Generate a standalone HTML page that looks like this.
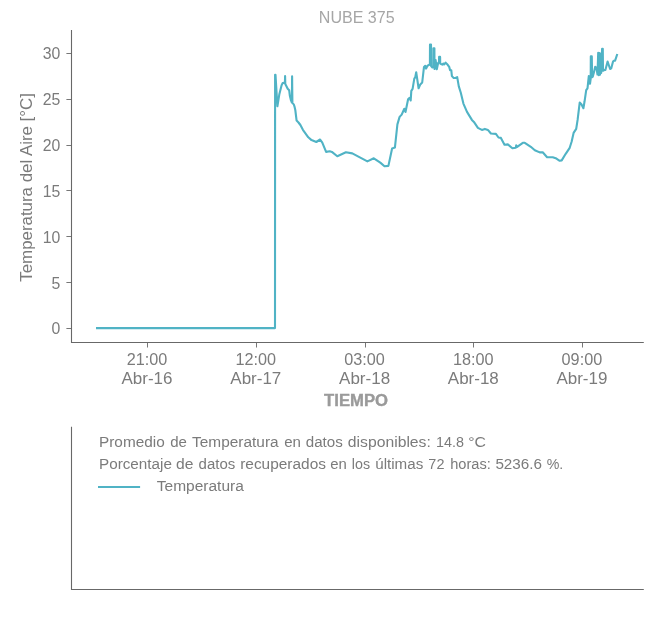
<!DOCTYPE html>
<html lang="es"><head><meta charset="utf-8"><title>NUBE 375</title>
<style>html,body{margin:0;padding:0;background:#fff}svg{display:block}text{font-family:"Liberation Sans",sans-serif}</style>
</head><body>
<svg width="652" height="623" viewBox="0 0 652 623">
<rect width="652" height="623" fill="#fff"/>
<text x="356.7" y="23.2" font-size="16" fill="#a6a6a6" text-anchor="middle" textLength="75.8" lengthAdjust="spacingAndGlyphs">NUBE 375</text>
<g stroke="#686868" stroke-width="1.1" fill="none">
<path d="M71.5 30V342.5H643.8"/>
<path d="M71.5 426.7V589.5H643.8"/>

<path d="M66.4 328.5H71.5" stroke-width="0.9"/>
<path d="M66.4 282.5H71.5" stroke-width="0.9"/>
<path d="M66.4 236.5H71.5" stroke-width="0.9"/>
<path d="M66.4 190.5H71.5" stroke-width="0.9"/>
<path d="M66.4 145.5H71.5" stroke-width="0.9"/>
<path d="M66.4 99.5H71.5" stroke-width="0.9"/>
<path d="M66.4 53.5H71.5" stroke-width="0.9"/>
<path d="M147.5 342.5V347.5" stroke-width="0.9"/>
<path d="M256.5 342.5V347.5" stroke-width="0.9"/>
<path d="M365.5 342.5V347.5" stroke-width="0.9"/>
<path d="M473.5 342.5V347.5" stroke-width="0.9"/>
<path d="M582.5 342.5V347.5" stroke-width="0.9"/>
</g>
<g font-size="16.3" fill="#7b7b7b" text-anchor="end">
<text x="60.4" y="334.4" textLength="8.8" lengthAdjust="spacingAndGlyphs">0</text>
<text x="60.4" y="288.6" textLength="8.8" lengthAdjust="spacingAndGlyphs">5</text>
<text x="60.4" y="242.7" textLength="17.6" lengthAdjust="spacingAndGlyphs">10</text>
<text x="60.4" y="196.9" textLength="17.6" lengthAdjust="spacingAndGlyphs">15</text>
<text x="60.4" y="151.0" textLength="17.6" lengthAdjust="spacingAndGlyphs">20</text>
<text x="60.4" y="105.2" textLength="17.6" lengthAdjust="spacingAndGlyphs">25</text>
<text x="60.4" y="59.4" textLength="17.6" lengthAdjust="spacingAndGlyphs">30</text>
</g>
<g font-size="16" fill="#7b7b7b" text-anchor="middle">
<text x="147.0" y="365.2" textLength="40.6" lengthAdjust="spacingAndGlyphs">21:00</text>
<text x="147.0" y="384.1" textLength="51.0" lengthAdjust="spacingAndGlyphs">Abr-16</text>
<text x="255.8" y="365.2" textLength="40.6" lengthAdjust="spacingAndGlyphs">12:00</text>
<text x="255.8" y="384.1" textLength="51.0" lengthAdjust="spacingAndGlyphs">Abr-17</text>
<text x="364.6" y="365.2" textLength="40.6" lengthAdjust="spacingAndGlyphs">03:00</text>
<text x="364.6" y="384.1" textLength="51.0" lengthAdjust="spacingAndGlyphs">Abr-18</text>
<text x="473.3" y="365.2" textLength="40.6" lengthAdjust="spacingAndGlyphs">18:00</text>
<text x="473.3" y="384.1" textLength="51.0" lengthAdjust="spacingAndGlyphs">Abr-18</text>
<text x="581.9" y="365.2" textLength="40.6" lengthAdjust="spacingAndGlyphs">09:00</text>
<text x="581.9" y="384.1" textLength="51.0" lengthAdjust="spacingAndGlyphs">Abr-19</text>
</g>
<text x="356.1" y="406.2" font-size="16" font-weight="bold" fill="#9a9a9a" stroke="#9a9a9a" stroke-width="0.35" text-anchor="middle" textLength="64" lengthAdjust="spacingAndGlyphs">TIEMPO</text>
<text transform="translate(32.0 187.4) rotate(-90)" font-size="15.6" fill="#7b7b7b" text-anchor="middle" textLength="188.6" lengthAdjust="spacingAndGlyphs">Temperatura del Aire [°C]</text>
<path d="M96.0 328.1 L275.0 328.1 L275.1 74.7 L275.5 74.7 L277.4 106.3 L279.4 93.9 L281.6 85.2 L282.7 83.1 L284.1 82.7 L284.9 83.3 L285.1 76.0 L285.3 84.0 L286.7 86.7 L287.7 88.8 L289.2 90.3 L289.9 96.0 L291.0 100.4 L291.9 102.5 L292.1 76.2 L292.4 102.9 L293.9 104.7 L294.6 106.9 L295.3 110.0 L296.6 120.6 L298.5 122.5 L300.4 125.0 L302.9 129.8 L308.3 137.3 L311.5 140.1 L316.3 142.0 L320.1 139.5 L322.3 142.7 L326.1 151.9 L329.8 151.3 L331.9 151.9 L337.3 156.2 L345.9 152.3 L352.3 153.4 L367.4 161.4 L373.8 158.3 L380.3 162.6 L384.5 166.3 L388.4 165.9 L392.1 148.5 L394.9 147.6 L397.4 124.4 L399.6 116.9 L401.7 114.6 L404.3 108.8 L405.5 112.0 L408.1 99.2 L409.4 97.9 L410.7 100.5 L411.3 90.9 L412.6 88.9 L414.3 78.7 L415.2 77.4 L416.2 72.2 L418.6 88.3 L420.3 84.4 L422.2 82.5 L424.0 66.9 L425.2 65.8 L426.1 68.6 L427.5 65.7 L429.3 64.8 L429.9 64.8 L430.0 44.5 L431.0 44.5 L431.1 66.0 L432.4 67.5 L433.3 67.0 L433.4 48.2 L434.4 48.2 L434.5 69.0 L435.6 60.0 L436.8 69.3 L438.2 62.8 L439.0 62.2 L439.1 56.9 L440.1 56.9 L440.2 63.5 L441.3 64.2 L442.5 64.6 L443.2 63.5 L444.3 64.3 L445.6 62.6 L447.7 64.8 L449.2 66.9 L450.1 70.2 L451.3 70.4 L451.9 76.1 L453.7 78.0 L455.6 78.0 L457.2 77.1 L458.8 86.4 L460.8 92.8 L463.4 103.6 L467.0 111.9 L471.9 119.9 L473.9 121.9 L477.9 127.9 L481.9 129.9 L484.9 128.9 L487.9 129.9 L490.9 133.5 L495.9 133.9 L498.5 137.5 L500.9 137.9 L504.5 144.8 L507.8 144.4 L512.4 148.2 L515.8 147.8 L516.2 145.4 L517.2 146.8 L522.8 142.8 L524.8 142.8 L530.8 146.8 L534.8 150.2 L539.7 152.4 L542.7 152.2 L547.1 157.2 L552.7 157.2 L555.7 158.2 L559.7 160.8 L561.7 160.4 L565.7 153.8 L569.7 147.8 L571.6 141.8 L573.6 132.9 L576.2 128.9 L577.6 119.9 L579.7 102.6 L581.4 104.3 L583.4 108.2 L584.5 101.8 L586.2 90.2 L587.5 88.3 L588.8 76.1 L590.0 83.8 L590.7 78.7 L590.8 56.4 L591.8 56.4 L592.1 77.2 L592.8 76.6 L593.9 72.5 L595.2 66.7 L596.4 67.8 L597.5 74.5 L598.2 52.7 L598.8 75.2 L599.4 53.0 L600.0 74.6 L600.6 53.7 L601.2 73.0 L602.1 48.7 L602.8 48.7 L603.0 70.8 L603.8 70.2 L605.4 69.9 L607.6 61.5 L610.1 69.0 L611.2 68.4 L612.9 61.9 L613.8 60.7 L615.1 60.6 L617.3 54.0" fill="none" stroke="#50b3c5" stroke-width="2.1" stroke-linejoin="round" stroke-linecap="butt"/>
<g font-size="14" fill="#7b7b7b">
<text y="447"><tspan x="99.02" textLength="65.74" lengthAdjust="spacingAndGlyphs">Promedio</tspan> <tspan x="170.24" textLength="16.70" lengthAdjust="spacingAndGlyphs">de</tspan> <tspan x="192.08" textLength="86.50" lengthAdjust="spacingAndGlyphs">Temperatura</tspan> <tspan x="284.20" textLength="16.76" lengthAdjust="spacingAndGlyphs">en</tspan> <tspan x="305.72" textLength="37.04" lengthAdjust="spacingAndGlyphs">datos</tspan> <tspan x="347.88" textLength="82.94" lengthAdjust="spacingAndGlyphs">disponibles:</tspan> <tspan x="436.06" textLength="27.88" lengthAdjust="spacingAndGlyphs">14.8</tspan> <tspan x="468.20" textLength="17.76" lengthAdjust="spacingAndGlyphs">°C</tspan></text>
<text y="468.5"><tspan x="99.02" textLength="72.92" lengthAdjust="spacingAndGlyphs">Porcentaje</tspan> <tspan x="176.04" textLength="17.40" lengthAdjust="spacingAndGlyphs">de</tspan> <tspan x="198.56" textLength="36.70" lengthAdjust="spacingAndGlyphs">datos</tspan> <tspan x="240.20" textLength="85.76" lengthAdjust="spacingAndGlyphs">recuperados</tspan> <tspan x="330.20" textLength="16.60" lengthAdjust="spacingAndGlyphs">en</tspan> <tspan x="351.88" textLength="18.22" lengthAdjust="spacingAndGlyphs">los</tspan> <tspan x="375.20" textLength="48.08" lengthAdjust="spacingAndGlyphs">últimas</tspan> <tspan x="428.38" textLength="16.06" lengthAdjust="spacingAndGlyphs">72</tspan> <tspan x="450.22" textLength="40.60" lengthAdjust="spacingAndGlyphs">horas:</tspan> <tspan x="495.40" textLength="46.56" lengthAdjust="spacingAndGlyphs">5236.6</tspan> <tspan x="546.74" textLength="16.58" lengthAdjust="spacingAndGlyphs">%.</tspan></text>
<text x="156.8" y="490.5" textLength="87" lengthAdjust="spacingAndGlyphs">Temperatura</text>
</g>
<path d="M98.0 487.0H140.1" stroke="#50b3c5" stroke-width="2.1" fill="none"/>
</svg></body></html>
